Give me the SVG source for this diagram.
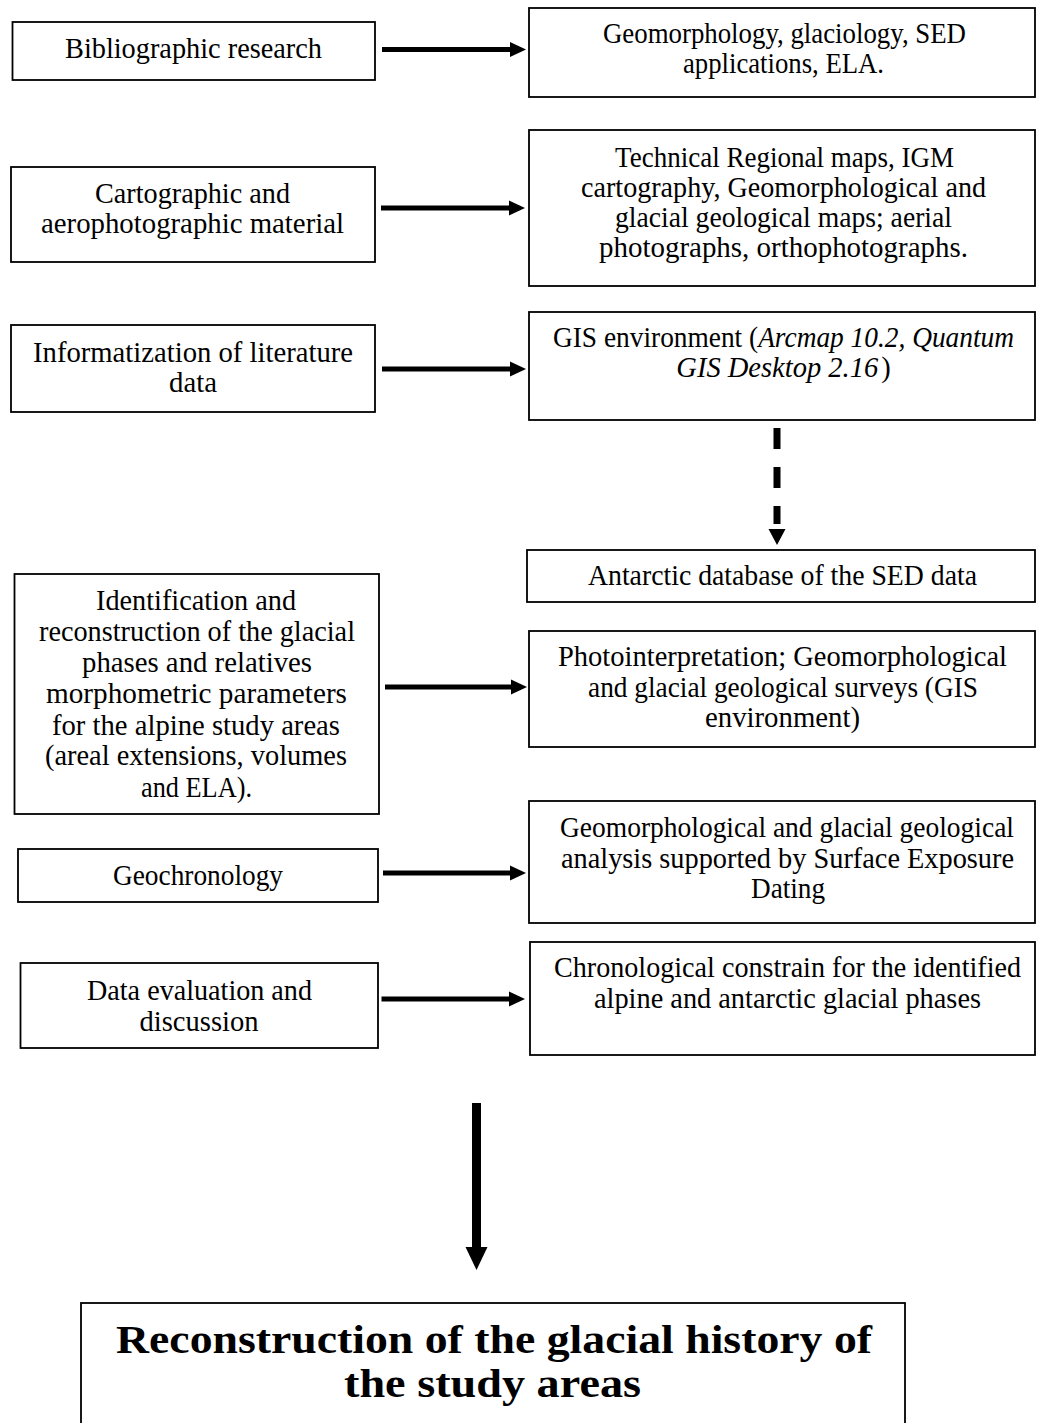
<svg xmlns="http://www.w3.org/2000/svg" width="1037" height="1423" viewBox="0 0 1037 1423">
<style>
.box{fill:#fff;stroke:#000;stroke-width:1.8}
.t{font-family:"Liberation Serif","Times New Roman",serif;font-size:28.5px;fill:#000;text-anchor:middle}
.i{font-style:italic}
.b{font-family:"Liberation Serif","Times New Roman",serif;font-size:39px;font-weight:bold;fill:#000;text-anchor:middle}
.sh{stroke:#000;stroke-width:5;fill:none}
.ah{fill:#000}
</style>
<rect width="1037" height="1423" fill="#fff"/>
<g id="n-biblio"><rect class="box" x="12.5" y="22" width="362.5" height="58"/>
<text class="t" x="193.5" y="58" textLength="257" lengthAdjust="spacingAndGlyphs">Bibliographic research</text></g>
<g id="n-carto"><rect class="box" x="11" y="167" width="364" height="95"/>
<text class="t" x="192.5" y="203" textLength="195" lengthAdjust="spacingAndGlyphs">Cartographic and</text>
<text class="t" x="192.5" y="233" textLength="303" lengthAdjust="spacingAndGlyphs">aerophotographic material</text></g>
<g id="n-inform"><rect class="box" x="11" y="325" width="364" height="87"/>
<text class="t" x="193" y="362" textLength="320" lengthAdjust="spacingAndGlyphs">Informatization of literature</text>
<text class="t" x="193" y="392" textLength="48" lengthAdjust="spacingAndGlyphs">data</text></g>
<g id="n-ident"><rect class="box" x="14.5" y="574" width="364.5" height="240"/>
<text class="t" x="196" y="610" textLength="200" lengthAdjust="spacingAndGlyphs">Identification and</text>
<text class="t" x="197" y="641" textLength="316" lengthAdjust="spacingAndGlyphs">reconstruction of the glacial</text>
<text class="t" x="197" y="672" textLength="230" lengthAdjust="spacingAndGlyphs">phases and relatives</text>
<text class="t" x="196.5" y="703" textLength="301" lengthAdjust="spacingAndGlyphs">morphometric parameters</text>
<text class="t" x="196" y="735" textLength="288" lengthAdjust="spacingAndGlyphs">for the alpine study areas</text>
<text class="t" x="196" y="765" textLength="302" lengthAdjust="spacingAndGlyphs">(areal extensions, volumes</text>
<text class="t" x="196.5" y="797" textLength="111" lengthAdjust="spacingAndGlyphs">and ELA).</text></g>
<g id="n-geochron"><rect class="box" x="18" y="849" width="360" height="53"/>
<text class="t" x="198" y="885" textLength="170" lengthAdjust="spacingAndGlyphs">Geochronology</text></g>
<g id="n-dataeval"><rect class="box" x="20.5" y="963" width="357.5" height="85"/>
<text class="t" x="199.5" y="1000" textLength="225" lengthAdjust="spacingAndGlyphs">Data evaluation and</text>
<text class="t" x="199" y="1031" textLength="119" lengthAdjust="spacingAndGlyphs">discussion</text></g>
<g id="n-geomorph"><rect class="box" x="529" y="8" width="506" height="89"/>
<text class="t" x="784.5" y="43" textLength="363" lengthAdjust="spacingAndGlyphs">Geomorphology, glaciology, SED</text>
<text class="t" x="783.5" y="73" textLength="201" lengthAdjust="spacingAndGlyphs">applications, ELA.</text></g>
<g id="n-maps"><rect class="box" x="529" y="130" width="506" height="156"/>
<text class="t" x="784.5" y="167" textLength="339" lengthAdjust="spacingAndGlyphs">Technical Regional maps, IGM</text>
<text class="t" x="783.5" y="197" textLength="405" lengthAdjust="spacingAndGlyphs">cartography, Geomorphological and</text>
<text class="t" x="783.5" y="227" textLength="337" lengthAdjust="spacingAndGlyphs">glacial geological maps; aerial</text>
<text class="t" x="783.5" y="257" textLength="369" lengthAdjust="spacingAndGlyphs">photographs, orthophotographs.</text></g>
<g id="n-gis"><rect class="box" x="529" y="312" width="506" height="108"/>
<text class="t" x="783.5" y="347" textLength="461" lengthAdjust="spacingAndGlyphs">GIS environment (<tspan class="i">Arcmap 10.2, Quantum</tspan></text>
<text class="t" x="783.5" y="377"><tspan class="i">GIS Desktop 2.16</tspan><tspan dx="3">)</tspan></text></g>
<g id="n-antarctic"><rect class="box" x="527" y="550" width="508" height="52"/>
<text class="t" x="782.5" y="585" textLength="389" lengthAdjust="spacingAndGlyphs">Antarctic database of the SED data</text></g>
<g id="n-photo"><rect class="box" x="529" y="631" width="506" height="116"/>
<text class="t" x="782.5" y="666" textLength="449" lengthAdjust="spacingAndGlyphs">Photointerpretation; Geomorphological</text>
<text class="t" x="783" y="697" textLength="390" lengthAdjust="spacingAndGlyphs">and glacial geological surveys (GIS</text>
<text class="t" x="782.5" y="727" textLength="155" lengthAdjust="spacingAndGlyphs">environment)</text></g>
<g id="n-analysis"><rect class="box" x="529" y="801" width="506" height="122"/>
<text class="t" x="787" y="837" textLength="454" lengthAdjust="spacingAndGlyphs">Geomorphological and glacial geological</text>
<text class="t" x="787.5" y="868" textLength="453" lengthAdjust="spacingAndGlyphs">analysis supported by Surface Exposure</text>
<text class="t" x="788" y="898" textLength="74" lengthAdjust="spacingAndGlyphs">Dating</text></g>
<g id="n-chrono"><rect class="box" x="530" y="942" width="505" height="113"/>
<text class="t" x="787.5" y="977" textLength="467" lengthAdjust="spacingAndGlyphs">Chronological constrain for the identified</text>
<text class="t" x="787.5" y="1008" textLength="387" lengthAdjust="spacingAndGlyphs">alpine and antarctic glacial phases</text></g>
<g id="n-final"><rect class="box" x="81" y="1303" width="824" height="140"/>
<text class="b" x="494" y="1353" textLength="756" lengthAdjust="spacingAndGlyphs">Reconstruction of the glacial history of</text>
<text class="b" x="492.5" y="1397" textLength="297" lengthAdjust="spacingAndGlyphs">the study areas</text></g>
<g id="connectors">
<line class="sh" x1="382" y1="49.5" x2="512" y2="49.5"/><polygon class="ah" points="510,42 526,49.5 510,57"/>
<line class="sh" x1="381" y1="208" x2="511" y2="208"/><polygon class="ah" points="509,200.5 525,208 509,215.5"/>
<line class="sh" x1="382" y1="369" x2="512" y2="369"/><polygon class="ah" points="510,361.5 526,369 510,376.5"/>
<line class="sh" x1="385" y1="687" x2="513" y2="687"/><polygon class="ah" points="511,679.5 527,687 511,694.5"/>
<line class="sh" x1="383" y1="873" x2="512" y2="873"/><polygon class="ah" points="510,865.5 526,873 510,880.5"/>
<line class="sh" x1="381.5" y1="999" x2="511" y2="999"/><polygon class="ah" points="509,991.5 525,999 509,1006.5"/>
<line x1="777" y1="428" x2="777" y2="524" stroke="#000" stroke-width="7" stroke-dasharray="21 18"/>
<polygon class="ah" points="768.5,529 785.5,529 777,545"/>
<line x1="476.5" y1="1103" x2="476.5" y2="1249" stroke="#000" stroke-width="9"/>
<polygon class="ah" points="465.5,1247 487.5,1247 476.5,1270"/>
</g>
</svg>
